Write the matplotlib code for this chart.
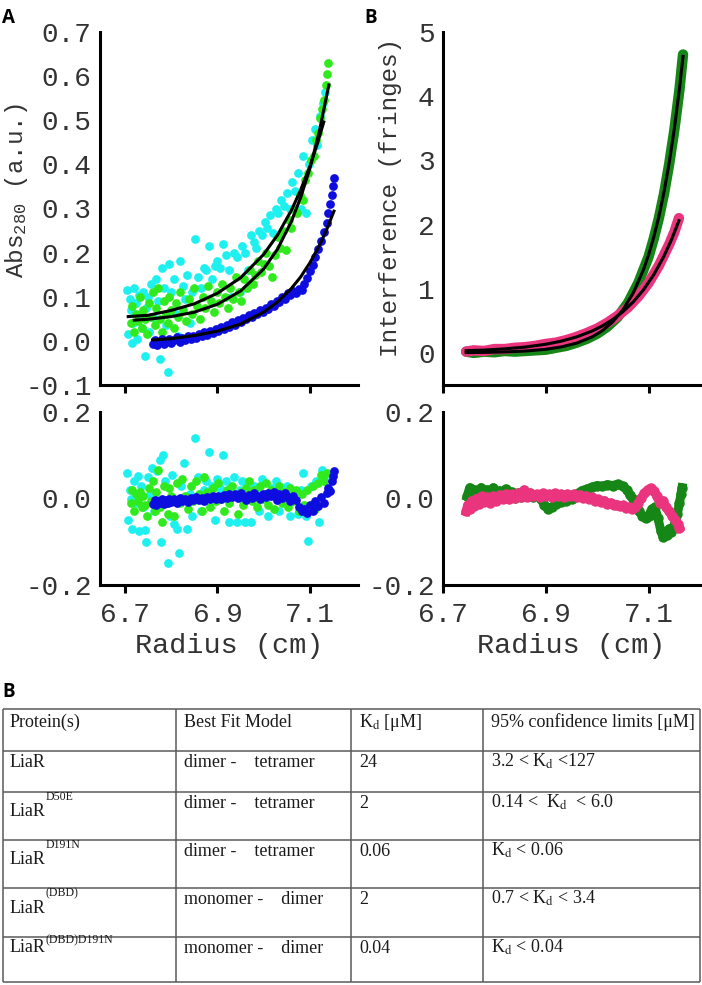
import numpy as np
import matplotlib
matplotlib.use("Agg")
import matplotlib.pyplot as plt

plt.rcParams['font.family'] = ['Liberation Mono', 'DejaVu Sans Mono']
plt.rcParams['mathtext.fontset'] = 'custom'
plt.rcParams['mathtext.rm'] = 'Liberation Mono'
plt.rcParams['mathtext.it'] = 'Liberation Mono'

# ---------------- values ----------------
radius_ticks = [6.7, 6.9, 7.1]
abs_ticks = [-0.1, 0.0, 0.1, 0.2, 0.3, 0.4, 0.5, 0.6, 0.7]
fringe_ticks = [0, 1, 2, 3, 4, 5]
resid_ticks = [-0.2, 0.0, 0.2]

# panel A, absorbance data (radius cm, Abs280)
cyan_abs = [
    [6.705, 0.115], [6.707, 0.015], [6.710, 0.095], [6.712, 0.070], [6.715, -0.005],
    [6.718, 0.040], [6.720, 0.120], [6.724, 0.085], [6.727, 0.005], [6.730, 0.105],
    [6.733, 0.060], [6.736, 0.030], [6.740, 0.110], [6.743, -0.035], [6.746, 0.075],
    [6.750, 0.100], [6.753, 0.020], [6.757, 0.130], [6.760, 0.055], [6.764, 0.000],
    [6.768, 0.140], [6.772, 0.090], [6.776, -0.040], [6.780, 0.165], [6.784, 0.120],
    [6.788, 0.035], [6.792, -0.070], [6.796, 0.175], [6.800, 0.110], [6.805, 0.140],
    [6.810, 0.060], [6.815, 0.010], [6.820, 0.180], [6.825, 0.125], [6.830, 0.095],
    [6.835, 0.150], [6.840, 0.040], [6.846, 0.110], [6.852, 0.230], [6.858, 0.145],
    [6.864, 0.120], [6.870, 0.165], [6.876, 0.160], [6.882, 0.215], [6.888, 0.140],
    [6.894, 0.170], [6.900, 0.180], [6.906, 0.165], [6.912, 0.220], [6.918, 0.195],
    [6.924, 0.160], [6.930, 0.100], [6.936, 0.200], [6.942, 0.190], [6.948, 0.110],
    [6.954, 0.215], [6.960, 0.200], [6.966, 0.160], [6.972, 0.240], [6.978, 0.225],
    [6.984, 0.210], [6.990, 0.250], [6.996, 0.240], [7.002, 0.270], [7.008, 0.255],
    [7.014, 0.285], [7.020, 0.245], [7.026, 0.300], [7.032, 0.290], [7.038, 0.320],
    [7.044, 0.305], [7.050, 0.335], [7.056, 0.300], [7.062, 0.360], [7.068, 0.340],
    [7.074, 0.380], [7.080, 0.300], [7.086, 0.420], [7.092, 0.290], [7.098, 0.400],
    [7.104, 0.455], [7.110, 0.480], [7.116, 0.445], [7.122, 0.510], [7.128, 0.540],
    [7.132, 0.565],
]
lime_abs = [
    [6.712, 0.040], [6.716, 0.080], [6.720, 0.020], [6.724, 0.060], [6.728, 0.045],
    [6.732, 0.100], [6.736, 0.030], [6.740, 0.070], [6.744, 0.050], [6.748, 0.015],
    [6.752, 0.085], [6.756, 0.055], [6.760, 0.110], [6.764, 0.035], [6.768, 0.075],
    [6.772, 0.120], [6.776, 0.050], [6.780, 0.020], [6.784, 0.090], [6.788, 0.060],
    [6.792, 0.040], [6.796, 0.100], [6.800, 0.070], [6.805, 0.030], [6.810, 0.085],
    [6.815, 0.055], [6.820, 0.110], [6.826, 0.070], [6.832, 0.045], [6.838, 0.095],
    [6.844, 0.060], [6.850, 0.120], [6.856, 0.080], [6.862, 0.050], [6.868, 0.100],
    [6.874, 0.075], [6.880, 0.125], [6.886, 0.090], [6.892, 0.065], [6.898, 0.110],
    [6.904, 0.085], [6.910, 0.130], [6.916, 0.100], [6.922, 0.075], [6.928, 0.120],
    [6.934, 0.095], [6.940, 0.145], [6.946, 0.110], [6.952, 0.090], [6.958, 0.140],
    [6.964, 0.120], [6.970, 0.160], [6.976, 0.130], [6.982, 0.150], [6.988, 0.180],
    [6.994, 0.155], [7.000, 0.175], [7.006, 0.200], [7.012, 0.170], [7.018, 0.145],
    [7.024, 0.195], [7.030, 0.235], [7.036, 0.210], [7.042, 0.250], [7.048, 0.205],
    [7.054, 0.275], [7.060, 0.255], [7.066, 0.300], [7.072, 0.290], [7.078, 0.330],
    [7.084, 0.320], [7.090, 0.365], [7.096, 0.380], [7.102, 0.410], [7.108, 0.420],
    [7.114, 0.455], [7.118, 0.470], [7.122, 0.505], [7.126, 0.525], [7.130, 0.545],
    [7.134, 0.580], [7.137, 0.605], [7.140, 0.630],
]
blue_abs = [
    [6.760, -0.008], [6.765, 0.002], [6.770, -0.010], [6.775, -0.003], [6.780, 0.004],
    [6.785, -0.006], [6.790, -0.001], [6.795, 0.005], [6.800, -0.004], [6.806, 0.003],
    [6.812, 0.008], [6.818, -0.002], [6.824, 0.006], [6.830, 0.001], [6.836, 0.010],
    [6.842, 0.004], [6.848, 0.012], [6.854, 0.007], [6.860, 0.016], [6.866, 0.010],
    [6.872, 0.019], [6.878, 0.014], [6.884, 0.022], [6.890, 0.018], [6.896, 0.027],
    [6.902, 0.022], [6.908, 0.031], [6.914, 0.027], [6.920, 0.036], [6.926, 0.032],
    [6.932, 0.042], [6.938, 0.037], [6.944, 0.048], [6.950, 0.043], [6.956, 0.052],
    [6.962, 0.049], [6.968, 0.058], [6.974, 0.053], [6.980, 0.063], [6.986, 0.060],
    [6.992, 0.069], [6.998, 0.066], [7.004, 0.074], [7.010, 0.072], [7.016, 0.083],
    [7.022, 0.079], [7.028, 0.090], [7.034, 0.088], [7.040, 0.099], [7.046, 0.095],
    [7.052, 0.108], [7.058, 0.104], [7.064, 0.112], [7.070, 0.108], [7.076, 0.118],
    [7.082, 0.115], [7.088, 0.130], [7.094, 0.142], [7.100, 0.158], [7.106, 0.172],
    [7.112, 0.190], [7.118, 0.208], [7.124, 0.226], [7.130, 0.246], [7.136, 0.268],
    [7.140, 0.290], [7.144, 0.310], [7.148, 0.330], [7.150, 0.350], [7.152, 0.370],
]

# fitted curves, panel A
cyan_fit = [
    [6.707, 0.055], [6.75, 0.058], [6.80, 0.069], [6.85, 0.084], [6.90, 0.108],
    [6.95, 0.143], [7.00, 0.196], [7.03, 0.240], [7.06, 0.296], [7.08, 0.342],
    [7.10, 0.396], [7.115, 0.443], [7.13, 0.496],
]
lime_fit = [
    [6.72, 0.047], [6.75, 0.049], [6.80, 0.055], [6.85, 0.065], [6.90, 0.083],
    [6.95, 0.113], [7.00, 0.163], [7.03, 0.208], [7.06, 0.271], [7.08, 0.325],
    [7.10, 0.391], [7.12, 0.473], [7.141, 0.580],
]
blue_fit = [
    [6.76, 0.002], [6.80, 0.005], [6.85, 0.012], [6.90, 0.022], [6.95, 0.038],
    [7.00, 0.065], [7.03, 0.088], [7.06, 0.119], [7.08, 0.145], [7.10, 0.177],
    [7.12, 0.215], [7.135, 0.249], [7.152, 0.294],
]

# panel A residuals
cyan_res = [
    [6.705, 0.060], [6.707, -0.050], [6.710, 0.020], [6.712, 0.000], [6.715, -0.070],
    [6.720, 0.040], [6.724, -0.010], [6.728, 0.052], [6.730, -0.075], [6.735, 0.030],
    [6.740, -0.020], [6.743, -0.073], [6.746, -0.100], [6.750, 0.050], [6.754, 0.010],
    [6.758, 0.070], [6.762, -0.030], [6.766, 0.000], [6.770, 0.064], [6.776, 0.090],
    [6.779, -0.100], [6.783, 0.100], [6.787, 0.040], [6.793, -0.150], [6.797, -0.040],
    [6.802, 0.055], [6.806, -0.060], [6.812, -0.070], [6.817, -0.125], [6.822, 0.030],
    [6.828, 0.082], [6.834, -0.070], [6.840, 0.010], [6.846, -0.040], [6.852, 0.140],
    [6.858, 0.050], [6.864, -0.030], [6.870, 0.020], [6.876, 0.040], [6.882, 0.108],
    [6.888, 0.030], [6.894, -0.050], [6.900, 0.045], [6.906, 0.025], [6.912, 0.100],
    [6.918, 0.040], [6.924, -0.054], [6.930, 0.030], [6.936, 0.050], [6.942, -0.054],
    [6.948, 0.020], [6.954, 0.040], [6.960, -0.055], [6.966, 0.010], [6.972, -0.054],
    [6.978, 0.030], [6.984, 0.020], [6.990, -0.030], [6.996, 0.045], [7.002, 0.010],
    [7.010, -0.040], [7.018, 0.025], [7.026, 0.040], [7.034, -0.030], [7.042, 0.020],
    [7.050, 0.030], [7.058, -0.040], [7.066, 0.010], [7.074, -0.035], [7.080, 0.020],
    [7.086, 0.060], [7.092, -0.040], [7.096, -0.098], [7.102, 0.030], [7.108, -0.020],
    [7.114, 0.040], [7.120, -0.055], [7.126, 0.065], [7.130, 0.050],
]
lime_res = [
    [6.712, -0.010], [6.716, 0.020], [6.720, -0.030], [6.724, 0.010], [6.728, -0.005],
    [6.732, 0.015], [6.736, -0.020], [6.740, 0.005], [6.744, -0.015], [6.748, -0.040],
    [6.752, 0.025], [6.756, -0.005], [6.760, 0.040], [6.764, -0.030], [6.768, 0.015],
    [6.771, 0.065], [6.776, -0.020], [6.780, -0.055], [6.784, 0.030], [6.788, -0.010],
    [6.792, -0.035], [6.796, 0.025], [6.800, 0.005], [6.806, -0.040], [6.812, 0.035],
    [6.818, -0.010], [6.824, 0.045], [6.830, 0.005], [6.836, -0.025], [6.842, 0.030],
    [6.848, -0.005], [6.854, 0.040], [6.860, 0.010], [6.866, -0.030], [6.872, 0.050],
    [6.878, 0.015], [6.884, -0.020], [6.890, 0.025], [6.896, -0.005], [6.902, 0.035],
    [6.908, 0.000], [6.914, -0.030], [6.920, 0.020], [6.926, -0.010], [6.932, 0.030],
    [6.938, 0.005], [6.944, -0.035], [6.950, 0.015], [6.956, -0.015], [6.962, 0.025],
    [6.968, 0.040], [6.974, -0.005], [6.980, 0.020], [6.986, -0.020], [6.992, 0.030],
    [6.998, 0.000], [7.004, 0.035], [7.010, -0.015], [7.016, 0.020], [7.022, -0.025],
    [7.028, 0.010], [7.034, 0.030], [7.040, -0.010], [7.046, 0.015], [7.052, -0.020],
    [7.058, 0.025], [7.064, -0.005], [7.070, 0.020], [7.076, -0.030], [7.082, 0.010],
    [7.088, -0.015], [7.094, 0.020], [7.100, -0.025], [7.106, 0.030], [7.112, -0.025],
    [7.118, 0.035], [7.124, 0.055], [7.130, 0.040], [7.136, 0.060],
]
blue_res = [
    [6.760, -0.012], [6.764, -0.004], [6.768, -0.014], [6.772, -0.006], [6.776, -0.010],
    [6.780, -0.002], [6.784, -0.012], [6.788, -0.004], [6.792, -0.010], [6.796, 0.000],
    [6.800, -0.008], [6.806, -0.002], [6.812, -0.010], [6.818, 0.002], [6.824, -0.006],
    [6.830, 0.000], [6.836, -0.008], [6.842, 0.002], [6.848, -0.004], [6.854, 0.004],
    [6.860, -0.004], [6.866, 0.002], [6.872, -0.006], [6.878, 0.004], [6.884, -0.002],
    [6.890, 0.006], [6.896, 0.000], [6.902, 0.006], [6.908, -0.002], [6.914, 0.008],
    [6.920, 0.002], [6.926, 0.010], [6.932, 0.004], [6.938, 0.010], [6.944, 0.002],
    [6.950, 0.012], [6.956, 0.004], [6.962, -0.004], [6.968, 0.008], [6.974, 0.002],
    [6.980, 0.012], [6.986, 0.006], [6.992, -0.002], [6.998, 0.010], [7.004, 0.004],
    [7.010, 0.012], [7.016, 0.006], [7.022, 0.014], [7.028, -0.004], [7.034, 0.010],
    [7.040, 0.002], [7.046, 0.012], [7.052, 0.004], [7.058, -0.006], [7.064, 0.006],
    [7.070, -0.004], [7.076, -0.020], [7.082, -0.030], [7.088, -0.024], [7.094, -0.034],
    [7.100, -0.016], [7.106, -0.028], [7.112, -0.006], [7.118, -0.018], [7.124, 0.004],
    [7.130, -0.010], [7.136, 0.012], [7.140, 0.024], [7.144, 0.018], [7.148, 0.040],
    [7.150, 0.052], [7.152, 0.064],
]

# panel B, interference data (radius cm, fringes)
green_frg = [
    [6.745, 0.02], [6.76, 0.00], [6.78, 0.02], [6.80, 0.01], [6.82, 0.03], [6.84, 0.02],
    [6.86, 0.03], [6.88, 0.04], [6.90, 0.05], [6.92, 0.08], [6.94, 0.11], [6.96, 0.16],
    [6.98, 0.22], [7.00, 0.30], [7.02, 0.41], [7.04, 0.56], [7.06, 0.78], [7.08, 1.09],
    [7.10, 1.50], [7.11, 1.78], [7.12, 2.10], [7.13, 2.48], [7.14, 2.94], [7.15, 3.47],
    [7.16, 4.10], [7.167, 4.65],
]
pink_frg = [
    [6.745, 0.02], [6.76, 0.04], [6.78, 0.03], [6.80, 0.06], [6.82, 0.06], [6.84, 0.08],
    [6.86, 0.09], [6.88, 0.11], [6.90, 0.14], [6.92, 0.16], [6.94, 0.20], [6.96, 0.25],
    [6.98, 0.31], [7.00, 0.38], [7.02, 0.47], [7.04, 0.58], [7.06, 0.71], [7.08, 0.88],
    [7.10, 1.09], [7.12, 1.36], [7.14, 1.69], [7.15, 1.88], [7.159, 2.10],
]
green_fit = [
    [6.745, 0.005], [6.78, 0.008], [6.82, 0.015], [6.86, 0.029], [6.90, 0.056],
    [6.93, 0.093], [6.96, 0.152], [6.99, 0.249], [7.01, 0.346], [7.03, 0.482],
    [7.05, 0.670], [7.07, 0.932], [7.09, 1.296], [7.10, 1.529], [7.11, 1.803],
    [7.12, 2.127], [7.13, 2.509], [7.14, 2.959], [7.15, 3.490], [7.16, 4.116],
    [7.167, 4.620],
]
pink_fit = [
    [6.745, 0.035], [6.78, 0.044], [6.82, 0.063], [6.86, 0.091], [6.90, 0.135],
    [6.93, 0.183], [6.96, 0.249], [6.99, 0.340], [7.01, 0.420], [7.03, 0.519],
    [7.05, 0.642], [7.07, 0.794], [7.09, 0.983], [7.11, 1.218], [7.13, 1.509],
    [7.145, 1.773], [7.159, 2.060],
]
green_res = [
    [6.747, 0.005], [6.752, 0.025], [6.757, -0.005], [6.762, 0.020], [6.768, 0.010],
    [6.774, 0.025], [6.780, 0.000], [6.786, 0.020], [6.792, 0.012], [6.798, 0.025],
    [6.804, 0.005], [6.810, 0.018], [6.816, 0.010], [6.822, 0.022], [6.828, 0.008],
    [6.834, 0.015], [6.840, 0.002], [6.846, 0.012], [6.852, 0.004], [6.858, 0.014],
    [6.864, 0.006], [6.870, 0.012], [6.876, 0.004], [6.882, 0.008], [6.890, 0.000],
    [6.897, -0.015], [6.905, -0.025], [6.912, -0.020], [6.920, -0.012], [6.930, -0.008],
    [6.940, -0.005], [6.950, 0.000], [6.960, 0.010], [6.970, 0.018], [6.980, 0.022],
    [6.990, 0.026], [7.000, 0.030], [7.010, 0.028], [7.020, 0.032], [7.030, 0.030],
    [7.040, 0.033], [7.050, 0.028], [7.058, 0.020], [7.064, 0.008], [7.070, -0.002],
    [7.076, -0.015], [7.082, -0.030], [7.088, -0.040], [7.094, -0.046], [7.100, -0.040],
    [7.106, -0.025], [7.112, -0.020], [7.118, -0.045], [7.124, -0.075], [7.128, -0.088],
    [7.132, -0.078], [7.136, -0.085], [7.140, -0.070], [7.144, -0.078], [7.148, -0.065],
    [7.152, -0.055], [7.156, -0.035], [7.160, -0.010], [7.163, 0.010], [7.165, 0.025],
]
pink_res = [
    [6.745, -0.030], [6.748, -0.015], [6.752, -0.025], [6.756, -0.005], [6.760, -0.018],
    [6.765, 0.000], [6.770, -0.012], [6.775, 0.005], [6.780, -0.008], [6.786, 0.003],
    [6.792, -0.010], [6.798, 0.005], [6.804, -0.005], [6.810, 0.008], [6.816, -0.002],
    [6.822, 0.010], [6.828, 0.000], [6.834, 0.010], [6.840, 0.002], [6.846, 0.012],
    [6.852, 0.004], [6.858, 0.020], [6.864, 0.003], [6.870, 0.012], [6.876, 0.005],
    [6.882, 0.010], [6.888, 0.004], [6.894, 0.012], [6.900, 0.006], [6.906, 0.010],
    [6.912, 0.004], [6.918, 0.012], [6.924, 0.006], [6.930, 0.010], [6.936, 0.004],
    [6.942, 0.010], [6.948, 0.005], [6.954, 0.010], [6.960, 0.004], [6.966, 0.008],
    [6.972, 0.002], [6.978, 0.006], [6.984, -0.002], [6.990, 0.003], [6.996, -0.005],
    [7.002, -0.002], [7.008, -0.008], [7.014, -0.005], [7.020, -0.012], [7.026, -0.010],
    [7.032, -0.016], [7.038, -0.014], [7.044, -0.018], [7.050, -0.016], [7.056, -0.022],
    [7.062, -0.020], [7.068, -0.025], [7.074, -0.020], [7.080, -0.010], [7.086, 0.002],
    [7.092, 0.012], [7.098, 0.020], [7.104, 0.024], [7.110, 0.018], [7.116, 0.005],
    [7.122, -0.010], [7.128, -0.005], [7.134, -0.020], [7.140, -0.030], [7.146, -0.040],
    [7.152, -0.050], [7.157, -0.060], [7.160, -0.068],
]

# table
table_header = ['Protein(s)', 'Best Fit Model', r'K$_{\mathrm{d}}$ [μM]',
                '95% confidence limits [μM]']
protein = ['LiaR', 'LiaR', 'LiaR', 'LiaR', 'LiaR']
variant = ['', 'D50E', 'D191N', '(DBD)', '(DBD)D191N']
fit_model = ['dimer -    tetramer', 'dimer -    tetramer', 'dimer -    tetramer',
             'monomer -    dimer', 'monomer -    dimer']
kd_value = ['24', '2', '0.06', '2', '0.04']
kd_limits = [r'3.2 < K$_{\mathrm{d}}$ <127', r'0.14 <  K$_{\mathrm{d}}$  < 6.0',
             r'K$_{\mathrm{d}}$ < 0.06', r'0.7 < K$_{\mathrm{d}}$ < 3.4',
             r'K$_{\mathrm{d}}$ < 0.04']

# ---------------- styling ----------------
CYAN = '#1EF0F0'
LIME = '#30EA1E'
BLUE = '#0D0DE0'
DKGREEN = '#168716'
PINK = '#EA357E'
TXT = '#333333'

W, H = 702, 985
fig = plt.figure(figsize=(W / 100, H / 100), dpi=100)


def box(l, t, r, b):
    return [l / W, 1 - b / H, (r - l) / W, (b - t) / H]


def style(ax, xlim, ylim, yticks, fmt, xlabels):
    for s in ['top', 'right']:
        ax.spines[s].set_visible(False)
    for s in ['left', 'bottom']:
        ax.spines[s].set_linewidth(2.2)
    ax.set_xlim(xlim)
    ax.set_ylim(ylim)
    ax.set_xticks(radius_ticks)
    ax.set_xticklabels(['%.1f' % t for t in radius_ticks] if xlabels else [])
    ax.set_yticks(yticks)
    ax.set_yticklabels([fmt % t for t in yticks])
    ax.tick_params(axis='x', length=5.5, width=2.2, direction='out',
                   labelsize=20, pad=7, labelcolor=TXT)
    ax.tick_params(axis='y', length=0, labelsize=20, pad=6, labelcolor=TXT)
    if xlabels:
        ax.set_xlabel('Radius (cm)', fontsize=20.5, color=TXT, labelpad=3)


def xy(pts):
    a = np.array(pts)
    return a[:, 0], a[:, 1]


dot = dict(ls='none', marker='o', ms=6.3, mew=0)

# panel A top
ax1 = fig.add_axes(box(100, 32, 358, 385))
ax1.plot(*xy(cyan_abs), color=CYAN, zorder=2, **dot)
ax1.plot(*xy(lime_abs), color=LIME, zorder=3, **dot)
ax1.plot(*xy(blue_abs), color=BLUE, zorder=4, **dot)
for f in (cyan_fit, lime_fit, blue_fit):
    ax1.plot(*xy(f), color='black', lw=2.2, zorder=5)
style(ax1, (6.646, 7.204), (-0.1, 0.7), abs_ticks, '%.1f', False)
ax1.set_ylabel(r'Abs$_{280}$ (a.u.)', fontsize=17.5, color=TXT)
ax1.yaxis.set_label_coords(-0.27, 0.55)

# panel A residuals
ax3 = fig.add_axes(box(100, 412, 358, 585))
ax3.plot(*xy(cyan_res), color=CYAN, zorder=2, **dot)
ax3.plot(*xy(lime_res), color=LIME, zorder=3, **dot)
ax3.plot(*xy(blue_res), color=BLUE, zorder=4, **dot)
style(ax3, (6.646, 7.204), (-0.2, 0.2), resid_ticks, '%.1f', True)

# panel B top
ax2 = fig.add_axes(box(443, 32, 700, 385))
ax2.plot(*xy(green_frg), color=DKGREEN, lw=7.5, solid_capstyle='round', zorder=2)
ax2.plot(*xy(pink_frg), color=PINK, lw=7.5, solid_capstyle='round', zorder=3)
for f in (green_fit, pink_fit):
    ax2.plot(*xy(f), color='black', lw=2.2, zorder=5)
style(ax2, (6.7, 7.2), (-0.5, 5), fringe_ticks, '%d', False)
ax2.set_ylabel('Interference (fringes)', fontsize=17.5, color=TXT)
ax2.yaxis.set_label_coords(-0.16, 0.53)

# panel B residuals
ax4 = fig.add_axes(box(443, 412, 700, 585))
ax4.plot(*xy(green_res), color=DKGREEN, marker='o', ms=7.5, mew=0, lw=6.5, zorder=2)
ax4.plot(*xy(pink_res), color=PINK, marker='o', ms=7.5, mew=0, lw=6.5, zorder=3)
style(ax4, (6.7, 7.2), (-0.2, 0.2), resid_ticks, '%.1f', True)

# overlay in pixel units for panel letters and the table
ov = fig.add_axes([0, 0, 1, 1])
ov.set_xlim(0, W)
ov.set_ylim(H, 0)
ov.axis('off')
ov.patch.set_alpha(0)

letter = dict(family='Open Sans', fontweight='bold', fontsize=13.5, color='black',
              va='baseline')
ov.text(2, 23, 'A', **letter)
ov.text(364, 23, 'B', **letter)
ov.text(2, 697, 'B', **letter)

col_edges = [3, 176, 351, 483, 700]
row_edges = [709, 751, 792, 840, 888, 937, 982]
text_x = [10, 184, 359, 491]

ov.hlines(row_edges, col_edges[0], col_edges[-1], colors='#5a5a5a', lw=1.1)
ov.vlines(col_edges, row_edges[0], row_edges[-1], colors='#5a5a5a', lw=1.1)

cell = dict(family='Liberation Serif', fontsize=13, color='#1a1a1a',
            va='baseline', ha='left', math_fontfamily='stix')

for j, h in enumerate(table_header):
    ov.text(text_x[j], row_edges[0] + 18, h, **cell)

base_drop = [16, 24, 24, 25, 15]
sup_drop = [0, 8, 8, 8, 6]
for i in range(len(protein)):
    top = row_edges[i + 1]
    t = ov.text(text_x[0], top + base_drop[i], protein[i], **cell)
    if variant[i]:
        ov.annotate(variant[i], xy=(1.0, top + sup_drop[i]), xycoords=(t, 'data'),
                    family='Liberation Serif', fontsize=8.5, color='#1a1a1a',
                    va='baseline', ha='left')
    ov.text(text_x[1], top + 16, fit_model[i], **cell)
    ov.text(text_x[2], top + 16, kd_value[i], **cell)
    ov.text(text_x[3], top + 16, kd_limits[i], **cell)

fig.savefig('out.png', dpi=100)
